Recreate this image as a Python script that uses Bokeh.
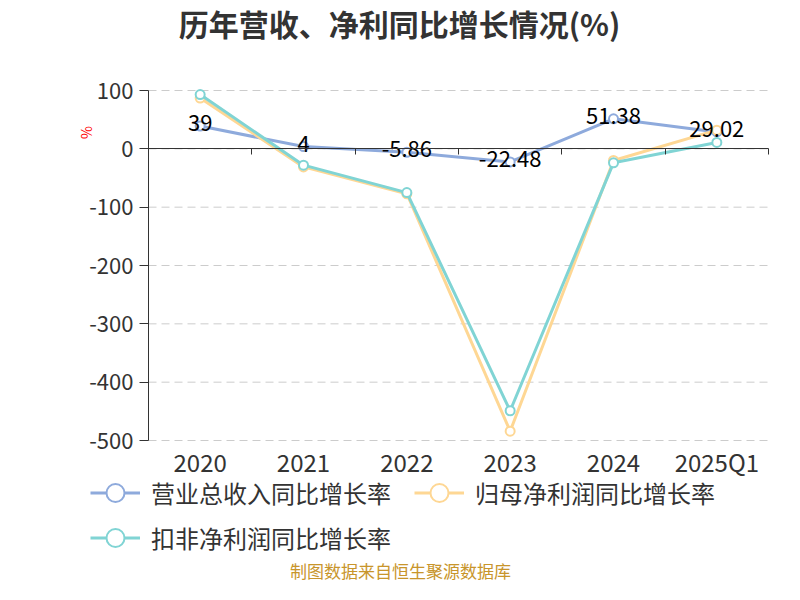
import numpy as np
from bokeh.plotting import figure
from bokeh.models import (Range1d, Label, Legend, LegendItem, FixedTicker,
                          LinearAxis, ColumnDataSource)
from bokeh.core.properties import value
from bokeh.embed import file_html
from bokeh.resources import INLINE

# ---- data ----
categories = ["2020", "2021", "2022", "2023", "2024", "2025Q1"]
revenue_growth = [39, 4, -5.86, -22.48, 51.38, 29.02]
parent_profit_growth = [87, -31, -77, -484, -20, 32]
deducted_profit_growth = [93, -28, -75, -449, -24, 11]
series_names = ["营业总收入同比增长率", "归母净利润同比增长率", "扣非净利润同比增长率"]
y_ticks = [-500, -400, -300, -200, -100, 0, 100]
title_text = "历年营收、净利同比增长情况(%)"
source_text = "制图数据来自恒生聚源数据库"

# ---- layout / style ----
W, H = 784, 584
PL, PR, PT, PB = 148, 768, 90, 440       # plot region in canvas pixels
colors = ["#8eaadc", "#fed794", "#80d4d4"]
FONT = "Noto Sans CJK SC"
n = len(categories)
ymin, ymax = y_ticks[0], y_ticks[-1]

ppx = (PR - PL) / n                       # pixels per category
upp = (ymax - ymin) / (PB - PT)           # y units per pixel
x_range = Range1d(-PL / ppx, n + (W - PR) / ppx)
y_range = Range1d(ymin - (H - PB) * upp, ymax + PT * upp)

p = figure(width=W, height=H, x_range=x_range, y_range=y_range,
           x_axis_type=None, y_axis_type=None,
           output_backend="svg", toolbar_location=None,
           min_border=0)
p.outline_line_color = None
p.grid.visible = False

xs = [i + 0.5 for i in range(n)]

# dashed horizontal grid lines, limited to the plot region
p.segment(x0=[0] * len(y_ticks), x1=[n] * len(y_ticks), y0=y_ticks, y1=y_ticks,
          line_color="#cccccc", line_width=1, line_dash="8 5")

# y axis at the left edge of the plot region
yax = LinearAxis(fixed_location=0, bounds=(ymin, ymax),
                 ticker=FixedTicker(ticks=y_ticks),
                 major_label_overrides={t: str(t) for t in y_ticks})
yax.axis_line_color = "#333333"
yax.major_tick_line_color = "#333333"
yax.major_tick_out = 9
yax.major_tick_in = 0
yax.minor_tick_line_color = None
yax.major_label_text_font = FONT
yax.major_label_text_font_size = "22px"
yax.major_label_text_color = "#333333"
yax.major_label_standoff = 6
p.add_layout(yax, "left")

# category axis line on zero with boundary ticks
zax = LinearAxis(fixed_location=0, bounds=(0, n),
                 ticker=FixedTicker(ticks=list(range(n + 1))))
zax.axis_line_color = "#333333"
zax.major_tick_line_color = "#333333"
zax.major_tick_out = 6
zax.major_tick_in = 0
zax.minor_tick_line_color = None
zax.major_label_text_font_size = "0px"
zax.major_label_text_alpha = 0
p.add_layout(zax, "below")

# category labels along the bottom of the plot region
cax = LinearAxis(fixed_location=ymin, ticker=FixedTicker(ticks=xs),
                 major_label_overrides={x: c for x, c in zip(xs, categories)})
cax.axis_line_color = None
cax.major_tick_line_color = None
cax.minor_tick_line_color = None
cax.major_label_text_font = FONT
cax.major_label_text_font_size = "24px"
cax.major_label_text_color = "#333333"
cax.major_label_standoff = -3
p.add_layout(cax, "below")

series = [revenue_growth, parent_profit_growth, deducted_profit_growth]
legend_items = []
for name, vals, c in zip(series_names, series, colors):
    lr = p.line(xs, vals, line_color=c, line_width=3)
    p.scatter(xs, vals, size=9, fill_color="white", line_color=c, line_width=2)
    dummy = p.scatter([xs[0]], [np.nan], size=9, fill_color="white",
                      line_color=c, line_width=2)
    legend_items.append(LegendItem(label=name, renderers=[lr, dummy]))

# data labels for revenue
lbl_src = ColumnDataSource(dict(x=xs, y=revenue_growth,
                                t=[f"{v:g}" for v in revenue_growth]))
p.text(x="x", y="y", text="t", source=lbl_src, text_align="center",
       text_baseline="middle", y_offset=-3, text_font=value(FONT),
       text_font_size="22px", text_color="#000000")

common = dict(orientation="horizontal", glyph_width=50, glyph_height=45,
              label_standoff=11, label_text_font=FONT, label_text_font_size="24px",
              label_text_color="#333333", padding=0, margin=0,
              border_line_color=None, background_fill_alpha=0, spacing=23)
leg1 = Legend(items=legend_items[:2], location=(90, H - 515), **common)
leg2 = Legend(items=legend_items[2:], location=(90, H - 560), **common)
p.add_layout(leg1)
p.add_layout(leg2)

# texts (screen units relative to the canvas bottom-left)
p.add_layout(Label(x=399, y=H - 22, x_units="screen", y_units="screen", text=title_text,
                   text_align="center", text_baseline="middle", text_font=FONT,
                   text_font_size="30px", text_font_style="bold", text_color="#333333"))
p.add_layout(Label(x=400, y=H - 570, x_units="screen", y_units="screen", text=source_text,
                   text_align="center", text_baseline="middle", text_font=FONT,
                   text_font_size="17px", text_color="#c8952b"))
p.add_layout(Label(x=85, y=H - 132, x_units="screen", y_units="screen", text="%",
                   angle=np.pi / 2, text_align="center", text_baseline="middle",
                   text_font=FONT, text_font_size="14px", text_color="#ff0000"))

open("out.html", "w").write(file_html(p, INLINE))
